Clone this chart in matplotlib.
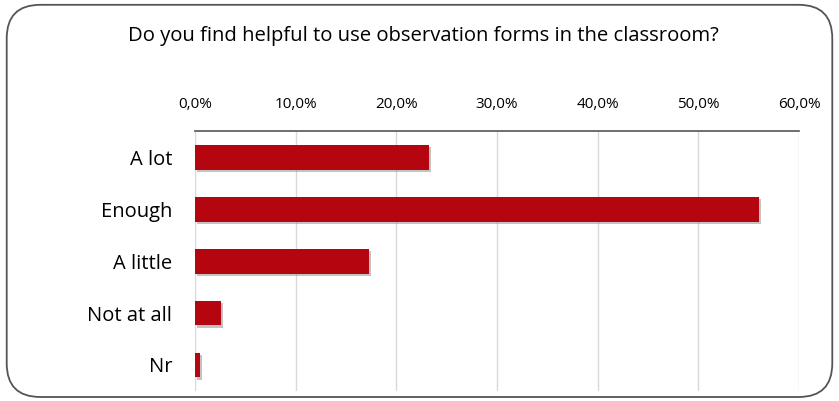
import matplotlib
matplotlib.use("Agg")
import matplotlib.pyplot as plt
import matplotlib.patheffects as pe
from matplotlib.patches import FancyBboxPatch
from matplotlib.ticker import FuncFormatter

categories = ["A lot", "Enough", "A little", "Not at all", "Nr"]
values = [23.2, 56.0, 17.3, 2.6, 0.5]
ticks = [0, 10, 20, 30, 40, 50, 60]
title = "Do you find helpful to use observation forms in the classroom?"

plt.rcParams['font.family'] = ['Open Sans', 'DejaVu Sans']

fig = plt.figure(figsize=(8.39, 4.01), dpi=100)
ax = fig.add_axes([0.2324, 0.025, 0.72, 0.648])

# rounded frame around the whole chart
frame = FancyBboxPatch((0.008, 0.01), 0.984, 0.978, boxstyle="round,pad=0,rounding_size=0.04",
                       transform=fig.transFigure, fill=False, edgecolor="#555555", linewidth=1.3,
                       mutation_aspect=839 / 401)
fig.patches.append(frame)

ypos = list(range(len(categories)))
ax.barh(ypos, values, height=0.48, color="#B5060F", zorder=3,
        path_effects=[pe.SimplePatchShadow(offset=(1.5, -1.5), shadow_rgbFace="#888888", alpha=0.5), pe.Normal()])

ax.set_xlim(0, 60)
ax.set_ylim(4.5, -0.5)
ax.set_yticks(ypos)
ax.set_yticklabels(categories, fontsize=14.5)
ax.set_xticks(ticks)
ax.xaxis.set_major_formatter(FuncFormatter(lambda v, p: f"{v:.1f}%".replace(".", ",")))
ax.xaxis.tick_top()
ax.tick_params(axis="x", labelsize=11, length=0, pad=14)
ax.tick_params(axis="y", length=0, pad=16.5)
ax.grid(axis="x", color="#d9d9d9", linewidth=1, zorder=0)

for s in ["right", "bottom", "left"]:
    ax.spines[s].set_visible(False)
ax.spines["top"].set_color("#555555")
ax.spines["top"].set_linewidth(1.2)

fig.text(0.505, 0.91, title, ha="center", va="center", fontsize=14.6)

fig.savefig("out.png", dpi=100)
